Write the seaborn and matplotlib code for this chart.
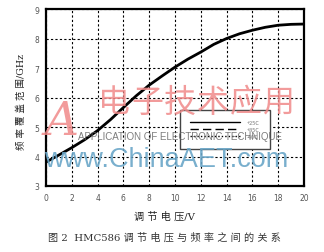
import matplotlib
matplotlib.use("Agg")
import matplotlib.pyplot as plt
from matplotlib.lines import Line2D
import seaborn as sns
import pandas as pd

voltage = [0, 1, 2, 3, 4, 5, 6, 7, 8, 9, 10, 11, 12, 13, 14, 15, 16, 17, 18, 19, 20]
freq_ghz = [3.81, 4.05, 4.30, 4.57, 4.88, 5.25, 5.66, 6.06, 6.42, 6.73, 7.03, 7.30, 7.54, 7.80, 8.00, 8.16, 8.28, 8.38, 8.45, 8.48, 8.49]
legend_labels = ["+25C", "+85C", "-40C"]
x_ticks = [0, 2, 4, 6, 8, 10, 12, 14, 16, 18, 20]
y_ticks = [3, 4, 5, 6, 7, 8, 9]

df = pd.DataFrame({"V": voltage, "f": freq_ghz})

sns.set_theme(style="white")
plt.rcParams["font.family"] = ["Noto Sans CJK SC", "DejaVu Sans"]
label_family = ["DejaVu Serif", "Noto Sans CJK SC"]

fig = plt.figure(figsize=(3.24, 2.53), dpi=100)
W, H = 324, 253
ax = fig.add_axes([46 / W, 1 - 187 / H, (304 - 46) / W, (187 - 10) / H])

sns.lineplot(data=df, x="V", y="f", ax=ax, color="black", linewidth=2.0, label=legend_labels[0])

ax.set_xlim(0, 20)
ax.set_ylim(3, 9)
ax.set_xticks(x_ticks)
ax.set_yticks(y_ticks)
ax.set_xticklabels([str(t) for t in x_ticks], fontsize=5.5, color="#555555", family="DejaVu Sans")
ax.set_yticklabels([str(t) for t in y_ticks], fontsize=5.5, color="#555555", family="DejaVu Sans")
ax.tick_params(length=0, pad=5)
ax.set_xlabel("")
ax.set_ylabel("")
ax.grid(True, color="black", linestyle=(0, (2, 2)), linewidth=0.8)
for s in ax.spines.values():
    s.set_color("black")
    s.set_linewidth(1.6)

handles = [
    Line2D([], [], color="black", linewidth=1.0, linestyle="-"),
    Line2D([], [], color="black", linewidth=1.0, linestyle=(0, (6, 3))),
    Line2D([], [], color="black", linewidth=1.0, linestyle=(0, (1, 1.5))),
]
leg = ax.legend(handles, legend_labels, loc="lower left",
                bbox_to_anchor=(0.519, 0.209), borderaxespad=0, fontsize=4,
                handlelength=9.0, handletextpad=1.3, labelspacing=0.35,
                borderpad=1.8, frameon=True, fancybox=False,
                edgecolor="#444444", framealpha=1)
leg.get_frame().set_linewidth(1.0)
for t in leg.get_texts():
    t.set_color("#777777")

# watermarks
wm_chars = ["电", "子", "技", "术", "应", "用"]
for i, ch in enumerate(wm_chars):
    fig.text((114 + 33 * i) / W, 1 - 103 / H, ch, fontsize=23, color="#f08a8a", alpha=0.85,
             ha="center", va="center", style="italic")
fig.text(62 / W, 1 - 122 / H, "A", fontsize=34, color="#f08a8a", alpha=0.85,
         ha="center", va="center", style="italic", family="DejaVu Serif")
fig.text(180 / W, 1 - 137 / H, "APPLICATION OF ELECTRONIC TECHNIQUE", fontsize=7,
         color="#666666", alpha=0.85, ha="center", va="center", family="Liberation Sans")
fig.text(166 / W, 1 - 160 / H, "www.ChinaAET.com", fontsize=19.5, color="#6aa6c8",
         alpha=0.9, ha="center", va="center", family="Liberation Sans")

fig.text(165 / W, 1 - 217 / H, "调 节 电 压/V", fontsize=7.3, color="#222222",
         ha="center", va="center", family=label_family)
fig.text(21 / W, 1 - 102 / H, "频 率 覆 盖 范 围/GHz", fontsize=6.8, color="#222222",
         ha="center", va="center", rotation=90, family=label_family)
fig.text(164.5 / W, 1 - 238 / H, "图 2  HMC586 调 节 电 压 与 频 率 之 间 的 关 系", fontsize=7.3,
         color="#333333", ha="center", va="center", family=label_family)

fig.savefig("out.png", dpi=100)
